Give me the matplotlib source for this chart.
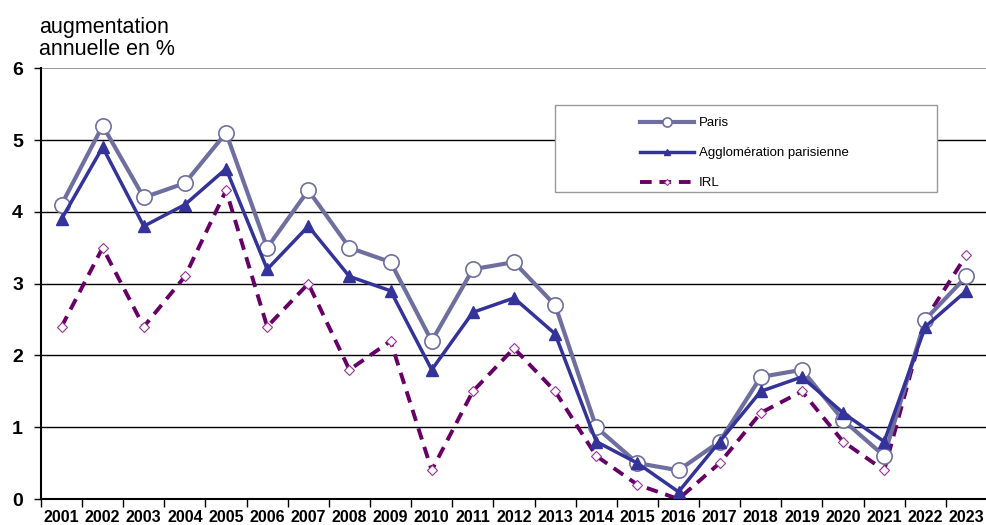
import matplotlib
matplotlib.use("Agg")
import matplotlib.pyplot as plt
from matplotlib.patches import Rectangle

plt.rcParams['font.family'] = ['Liberation Sans', 'DejaVu Sans']

annees = [str(a) for a in range(2001, 2024)]
paris = [4.1, 5.2, 4.2, 4.4, 5.1, 3.5, 4.3, 3.5, 3.3, 2.2, 3.2, 3.3, 2.7,
         1.0, 0.5, 0.4, 0.8, 1.7, 1.8, 1.1, 0.6, 2.5, 3.1]
agglo = [3.9, 4.9, 3.8, 4.1, 4.6, 3.2, 3.8, 3.1, 2.9, 1.8, 2.6, 2.8, 2.3,
         0.8, 0.5, 0.1, 0.8, 1.5, 1.7, 1.2, 0.8, 2.4, 2.9]
irl = [2.4, 3.5, 2.4, 3.1, 4.3, 2.4, 3.0, 1.8, 2.2, 0.4, 1.5, 2.1, 1.5,
       0.6, 0.2, 0.0, 0.5, 1.2, 1.5, 0.8, 0.4, 2.5, 3.4]

x = list(range(len(annees)))

fig = plt.figure(figsize=(9.87, 5.25), dpi=100)
ax = fig.add_axes([0.0415, 0.0495, 0.9585, 0.8205])

# grille horizontale
for v in range(1, 6):
    ax.axhline(v, color="black", lw=1.0, zorder=0)
ax.axhline(6, color="#888888", lw=1.2, zorder=0)

ax.plot(x, paris, color="#6f6f9f", lw=3, marker="o", ms=11,
        mfc="white", mec="#6f6f9f", mew=1.2, label="Paris", zorder=3)
ax.plot(x, agglo, color="#333399", lw=2.5, marker="^", ms=8,
        mfc="#333399", mec="#333399", label="Agglomération parisienne", zorder=4)
ax.plot(x, irl, color="#660066", lw=2.8, ls=(0, (3, 2)), marker="D", ms=5,
        mfc="white", mec="#993399", mew=0.8, label="IRL", zorder=2)

ax.set_xlim(-0.5, len(annees) - 0.5)
ax.set_ylim(0, 6)
ax.set_yticks(range(0, 7))
ax.set_yticklabels([str(v) for v in range(0, 7)], fontsize=14, fontweight="bold")
ax.set_xticks(x)
ax.set_xticklabels(annees, fontsize=11.5, fontweight="bold")
ax.set_xticks([i - 0.5 for i in range(len(annees) + 1)], minor=True)
ax.tick_params(axis="x", which="major", length=0, pad=8)
ax.tick_params(axis="x", which="minor", length=6, width=1, direction="out")
ax.tick_params(axis="y", length=5, width=1, direction="out", pad=8)

for s in ["top", "right"]:
    ax.spines[s].set_visible(False)
ax.spines["left"].set_linewidth(1.5)
ax.spines["bottom"].set_linewidth(1.5)

fig.text(0.04, 0.885, "augmentation\nannuelle en %", fontsize=15.5,
         ha="left", va="bottom", linespacing=1.1)

# cadre de la légende
ax.add_patch(Rectangle((555 / 987, 1 - 192 / 525), 382 / 987, 87 / 525,
                       transform=fig.transFigure, facecolor="white",
                       edgecolor="#999999", lw=1, zorder=5, clip_on=False))
leg = ax.legend(loc="upper left", bbox_to_anchor=(0.633, 0.887), fontsize=9.5,
                frameon=False, handlelength=4.1, handletextpad=0.4,
                borderpad=0, labelspacing=1.35, borderaxespad=0,
                markerscale=0.6)
leg.set_zorder(6)

fig.savefig("out.png", dpi=100)
